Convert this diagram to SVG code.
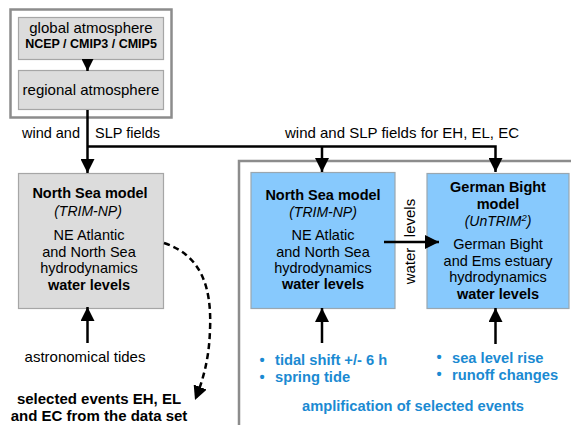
<svg xmlns="http://www.w3.org/2000/svg" width="571" height="425" viewBox="0 0 571 425">
<style>
text{font-family:"Liberation Sans",Arial,sans-serif;fill:#000;text-anchor:middle}
.t15{font-size:15px}
.t14{font-size:14.5px}
.t13{font-size:14px}
.b{font-weight:bold}
.i{font-style:italic}
.blue{fill:#1b8ad2;font-weight:bold;font-size:14.7px}
.gbox{fill:#dcdcdc;stroke:#a6a6a6;stroke-width:1.2}
.bbox{fill:#87c9fd;stroke:#9aa7b0;stroke-width:1.2}
.frame{fill:none;stroke:#8c8c8c;stroke-width:2.5}
.ln{fill:none;stroke:#000;stroke-width:2.5}
</style>
<defs>
<marker id="ah" markerWidth="12" markerHeight="12" refX="12" refY="6" orient="auto" markerUnits="userSpaceOnUse" viewBox="0 0 12 12">
<path d="M0,0 L12,6 L0,12 z" fill="#000"/>
</marker>
<marker id="ah2" markerWidth="14" markerHeight="14" refX="14" refY="7" orient="auto" markerUnits="userSpaceOnUse" viewBox="0 0 14 14">
<path d="M0,0 L14,7 L0,14 z" fill="#000"/>
</marker>
</defs>
<rect width="571" height="425" fill="#fff"/>

<rect class="frame" x="10.5" y="9.5" width="161" height="108"/>
<rect class="frame" x="239" y="161" width="400" height="300"/>

<g id="global">
<rect class="gbox" x="18.5" y="17.5" width="145" height="42"/>
<text class="t15" x="91" y="33">global atmosphere</text>
<text class="b" font-size="12.5" x="91" y="48">NCEP / CMIP3 / CMIP5</text>
</g>
<g id="regional">
<rect class="gbox" x="18.5" y="70.5" width="145" height="39"/>
<text class="t15" x="91" y="95">regional atmosphere</text>
</g>

<g id="ns-left">
<rect class="gbox" x="18.5" y="173.5" width="145" height="135"/>
<text class="t14 b" x="90" y="198">North Sea model</text>
<text class="t13 i" x="88" y="216">(TRIM-NP)</text>
<text class="t14" x="89" y="240">NE Atlantic</text>
<text class="t14" x="89" y="257">and North Sea</text>
<text class="t14" x="89" y="273">hydrodynamics</text>
<text class="t14 b" x="89" y="290">water levels</text>
</g>

<g id="ns-right">
<rect class="bbox" x="251" y="172.5" width="144" height="136"/>
<text class="t14 b" x="323" y="200">North Sea model</text>
<text class="t13 i" x="323" y="217">(TRIM-NP)</text>
<text class="t14" x="323" y="240">NE Atlatic</text>
<text class="t14" x="323" y="257">and North Sea</text>
<text class="t14" x="323" y="273">hydrodynamics</text>
<text class="t14 b" x="323" y="289">water levels</text>
</g>

<g id="gb">
<rect class="bbox" x="427" y="173.5" width="142" height="135"/>
<text class="t14 b" x="498" y="192">German Bight</text>
<text class="t14 b" x="498" y="209">model</text>
<text class="t13 i" x="498" y="226">(UnTRIM<tspan font-size="9.5" dy="-5">2</tspan><tspan dy="5">)</tspan></text>
<text class="t14" x="498" y="249">German Bight</text>
<text class="t14" x="498" y="266">and Ems estuary</text>
<text class="t14" x="498" y="282">hydrodynamics</text>
<text class="t14 b" x="498" y="299">water levels</text>
</g>

<g id="connectors">
<path class="ln" d="M87.5,59.5 V71" marker-end="url(#ah)"/>
<path class="ln" d="M87.5,110 V173" marker-end="url(#ah2)"/>
<path class="ln" d="M87.5,146.5 H495.5 V172" marker-end="url(#ah2)"/>
<path class="ln" d="M322,146.5 V172" marker-end="url(#ah2)"/>
<path class="ln" d="M384,242 H439" marker-end="url(#ah2)"/>
<path class="ln" d="M87.5,343 V307" marker-end="url(#ah2)"/>
<path class="ln" d="M322,343 V308" marker-end="url(#ah2)"/>
<path class="ln" d="M495.5,344 V308" marker-end="url(#ah2)"/>
<path d="M164,243 C200,255 212,285 210,330 C209,360 203,380 195,400" fill="none" stroke="#000" stroke-width="2.5" stroke-dasharray="6,4" marker-end="url(#ah2)"/>
</g>

<g id="labels">
<text class="t14" style="text-anchor:end" x="80" y="138">wind and</text>
<text class="t14" style="text-anchor:start" x="95" y="138">SLP fields</text>
<text class="t15" x="402" y="138">wind and SLP fields for EH, EL, EC</text>
<text class="t15" transform="translate(415,266) rotate(-90)">water</text>
<text class="t15" transform="translate(415,218) rotate(-90)">levels</text>
<text class="t15" x="85" y="362">astronomical tides</text>
<text class="t15 b" x="99" y="404">selected events EH, EL</text>
<text class="t15 b" x="99" y="421">and EC from the data set</text>
<text class="blue" x="262" y="365">•</text>
<text class="blue" x="262" y="382">•</text>
<text class="blue" style="text-anchor:start" x="275" y="365">tidal shift +/- 6 h</text>
<text class="blue" style="text-anchor:start" x="275" y="382">spring tide</text>
<text class="blue" x="439" y="362">•</text>
<text class="blue" x="439" y="379">•</text>
<text class="blue" style="text-anchor:start" x="452" y="363">sea level rise</text>
<text class="blue" style="text-anchor:start" x="452" y="380">runoff changes</text>
<text class="blue" x="413" y="411">amplification of selected events</text>
</g>
</svg>
